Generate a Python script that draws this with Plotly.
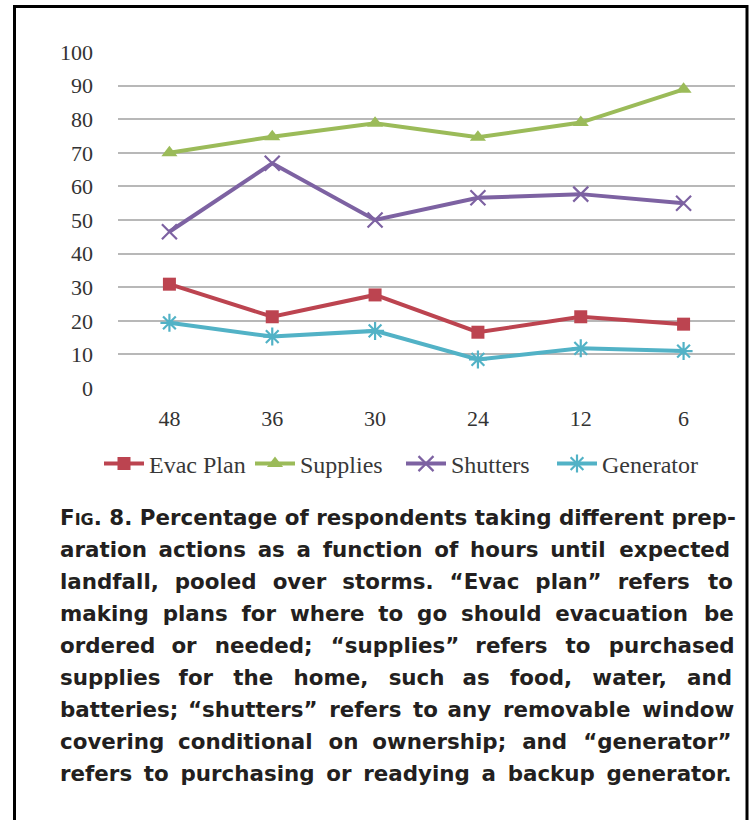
import plotly.graph_objects as go

hours = ["48", "36", "30", "24", "12", "6"]
evac_plan = [30.9, 21.2, 27.7, 16.6, 21.2, 19.0]
supplies = [70.0, 74.8, 78.8, 74.6, 79.0, 88.9]
shutters = [46.5, 66.9, 50.0, 56.6, 57.7, 55.0]
generator = [19.4, 15.3, 17.0, 8.5, 11.8, 11.0]
y_ticks = [0, 10, 20, 30, 40, 50, 60, 70, 80, 90, 100]

caption_lines = [
    "F<span style='font-size:16px'>IG</span>. 8. Percentage of respondents taking different prep-",
    "aration actions as a function of hours until expected",
    "landfall, pooled over storms. “Evac plan” refers to",
    "making plans for where to go should evacuation be",
    "ordered or needed; “supplies” refers to purchased",
    "supplies for the home, such as food, water, and",
    "batteries; “shutters” refers to any removable window",
    "covering conditional on ownership; and “generator”",
    "refers to purchasing or readying a backup generator.",
]
# extra pixels needed per caption line to fill the justified column
caption_extra = [0, 37, 62, 53, 59, 99, 21, 38, 31]

W, H = 755, 820
L, R, T, B = 118, 735, 52, 388  # plot area in page pixels
CAP_SIZE = 21.4
HAIR = 0.1 * CAP_SIZE  # approx width of U+200A


def px(x):
    return (x - L) / (R - L)


def py(y):
    return (B - y) / (B - T)


def justify(line, extra):
    words = line.split(" ")
    gaps = len(words) - 1
    n = int(round(extra / HAIR))
    if gaps == 0 or n <= 0:
        return line
    out = words[0]
    for g in range(gaps):
        k = (n * (g + 1)) // gaps - (n * g) // gaps
        out += " " + "\u200a" * k + words[g + 1]
    return out


fig = go.Figure()
series = [
    ("Evac Plan", evac_plan, "#BC4450", dict(symbol="square", size=13)),
    ("Supplies", supplies, "#9BBB59", dict(symbol="triangle-up", size=14)),
    ("Shutters", shutters, "#7D62A2", dict(symbol="x-thin-open", size=15, line=dict(width=2.2, color="#7D62A2"))),
    ("Generator", generator, "#52B2C6", dict(symbol="asterisk-open", size=15, line=dict(width=2.2, color="#52B2C6"))),
]
for name, vals, col, mk in series:
    fig.add_trace(go.Scatter(
        x=hours, y=vals, name=name, mode="lines+markers",
        line=dict(color=col, width=4),
        marker=dict(color=col, **mk),
    ))

fig.update_layout(
    width=W, height=H,
    margin=dict(l=L, r=W - R, t=T, b=H - B),
    paper_bgcolor="white", plot_bgcolor="white",
    font=dict(family="Liberation Serif", size=22, color="#333333"),
    showlegend=True,
    legend=dict(orientation="h", x=px(401), xanchor="center", y=py(464), yanchor="middle",
                font=dict(family="Liberation Serif", size=24, color="#383838"),
                itemwidth=40, tracegroupgap=0, entrywidth=96),
    xaxis=dict(type="category", range=[-0.5, 5.5], showgrid=False, showline=False,
               ticks="", ticklabelstandoff=15, tickfont=dict(size=22)),
    yaxis=dict(range=[0, 100], tickvals=y_ticks, showgrid=True, gridcolor="#B8B8B8",
               gridwidth=1.6, zeroline=False, showline=False, ticks="",
               ticklabelstandoff=24, tickfont=dict(size=22)),
)

# caption lines
y0 = 517
for i, (line, extra) in enumerate(zip(caption_lines, caption_extra)):
    fig.add_annotation(
        text=justify(line, extra), xref="paper", yref="paper", x=px(58), y=py(y0 + i * 32.1),
        xanchor="left", yanchor="middle", showarrow=False,
        font=dict(family="DejaVu Sans", size=CAP_SIZE, color="#231F20", weight="bold"),
    )

# frame
fig.add_shape(type="rect", xref="paper", yref="paper",
              x0=px(14.5), x1=px(747), y0=py(840), y1=py(6.5),
              line=dict(color="black", width=3), fillcolor="rgba(0,0,0,0)")

fig.write_html("out.html", config={"displayModeBar": False},
               post_script="document.body.style.margin='0px';")
